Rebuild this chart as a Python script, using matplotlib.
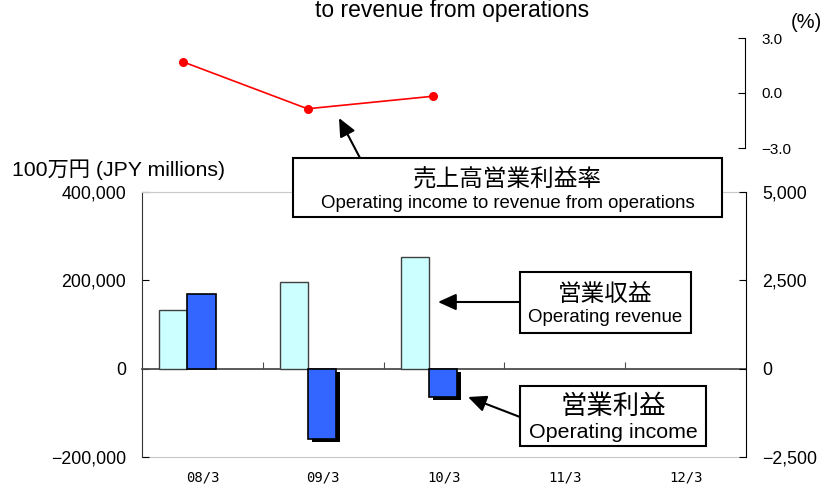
import numpy as np
import matplotlib.pyplot as plt
from matplotlib.patches import Rectangle, FancyArrowPatch
import matplotlib.patheffects as pe

plt.rcParams['font.family'] = ['Liberation Sans', 'Noto Sans CJK JP']

# data
years = ['08/3', '09/3', '10/3', '11/3', '12/3']
revenue = [133300, 196600, 253100]      # 営業収益, left axis (100万円)
income = [2100, -1985, -790]            # 営業利益, right axis
ratio = [1.71, -0.86, -0.18]            # 売上高営業利益率 (%)

W, H = 827, 484
fig = plt.figure(figsize=(W / 100, H / 100), dpi=100)


def fx(x):
    return x / W


def fy(y):
    return 1 - y / H


def fmt(v):
    return f'{v:,}'.replace('-', '\u2212')


# main bar panel
ax = fig.add_axes([fx(142), fy(457), (746 - 142) / W, (457 - 192) / H])
ax2 = ax.twinx()
x = np.arange(len(revenue))
ax.bar(x - 0.243, revenue, width=0.233, color='#ccffff', edgecolor='#404040', lw=1, zorder=3)
bars = ax2.bar(x - 0.007, income, width=0.233, color='#3366ff', edgecolor='black', lw=1.2, zorder=3)
for b, v in zip(bars, income):
    if v < 0:
        b.set_path_effects([pe.SimplePatchShadow(offset=(2.8, -2.2), shadow_rgbFace='black', alpha=1),
                            pe.Normal()])

ax.set_xlim(-0.5, len(years) - 0.5)
ax.set_ylim(-200000, 400000)
ax2.set_ylim(-2500, 5000)

ax.spines['bottom'].set_position(('data', 0))
ax.spines['bottom'].set_color('#4d4d4d')
ax.spines['bottom'].set_linewidth(1.3)
ax.spines['top'].set_color('#c8c8c8')
ax.spines['right'].set_visible(False)
ax.spines['left'].set_color('#333333')
for s in ['top', 'bottom', 'left']:
    ax2.spines[s].set_visible(False)
ax2.spines['right'].set_color('black')

ax.set_xticks(np.arange(len(years) - 1) + 0.5)
ax.set_xticklabels([])
ax.tick_params(axis='x', direction='in', length=5, color='#4d4d4d')

sec = ax.secondary_xaxis('bottom')
sec.set_xticks(np.arange(len(years)), labels=years)
sec.tick_params(length=0, pad=9.5, labelsize=10)
for t in sec.get_xticklabels():
    t.set_fontfamily('DejaVu Sans Mono')
sec.spines['bottom'].set_color('#c8c8c8')

lt = [-200000, 0, 200000, 400000]
ax.set_yticks(lt, labels=[fmt(v) for v in lt])
ax.tick_params(axis='y', direction='in', length=5, pad=11.5, labelsize=12.8)
rt = [-2500, 0, 2500, 5000]
ax2.set_yticks(rt, labels=[fmt(v) for v in rt])
ax2.tick_params(axis='y', direction='in', length=5, pad=11.5, labelsize=12.8)

# ratio line panel
axt = fig.add_axes([fx(120), fy(148), 625 / W, 110 / H])
axt.patch.set_alpha(0)
axt.plot(x, ratio, color='red', lw=1.2, marker='o', ms=5.5)
axt.set_xlim(-0.5, len(years) - 0.5)
axt.set_ylim(-3, 3)
for s in ['left', 'top', 'bottom']:
    axt.spines[s].set_visible(False)
axt.set_xticks([])
axt.yaxis.tick_right()
axt.set_yticks([-3, 0, 3], labels=['\u22123.0', '0.0', '3.0'])
axt.tick_params(axis='y', direction='in', length=5, pad=12, labelsize=11)

fig.text(fx(452), fy(11), 'to revenue from operations', ha='center', va='center', fontsize=16.5)
fig.text(fx(806), fy(23), '(%)', ha='center', va='center', fontsize=14.5)
fig.text(fx(12), fy(170), '100万円 (JPY millions)', ha='left', va='center', fontsize=15.3)


def label_box(x0, y0, x1, y1, jp, en, jp_y, en_y, jp_size, en_size):
    fig.add_artist(Rectangle((fx(x0), fy(y1)), (x1 - x0) / W, (y1 - y0) / H, transform=fig.transFigure,
                             facecolor='white', edgecolor='black', lw=1.5, zorder=5))
    cx = fx((x0 + x1) / 2)
    fig.text(cx, fy(jp_y), jp, ha='center', va='center', fontsize=jp_size, zorder=6)
    fig.text(cx, fy(en_y), en, ha='center', va='center', fontsize=en_size, zorder=6)


def arrow(x0, y0, x1, y1):
    fig.add_artist(FancyArrowPatch((fx(x0), fy(y0)), (fx(x1), fy(y1)), transform=fig.transFigure,
                                   arrowstyle='-|>,head_length=11,head_width=5', mutation_scale=1,
                                   color='black', lw=1.5, shrinkA=0, shrinkB=0, zorder=6))


label_box(293, 158, 722, 217, '売上高営業利益率', 'Operating income to revenue from operations', 179, 203, 17, 13.4)
label_box(520, 272, 691, 333, '営業収益', 'Operating revenue', 295, 318, 17, 13.4)
label_box(520, 386, 706, 446, '営業利益', 'Operating income', 407, 433, 19, 15.4)
arrow(360, 158, 339, 118)
arrow(520, 302, 438, 302)
arrow(520, 417, 468, 397)

fig.savefig('out.png', dpi=100)
